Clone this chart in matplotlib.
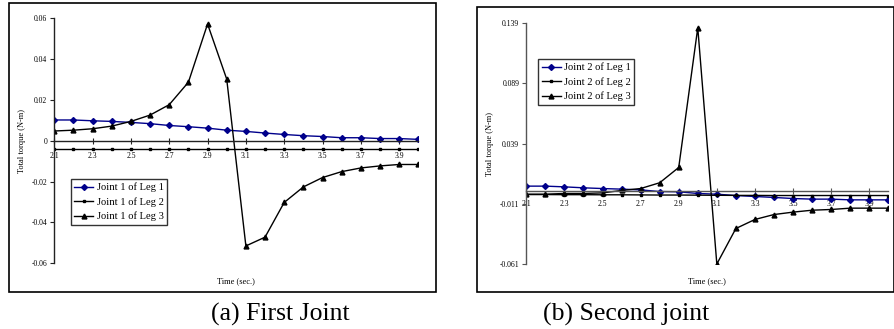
import matplotlib.pyplot as plt
from matplotlib.patches import Rectangle
import numpy as np

plt.rcParams['font.family'] = ['Liberation Serif', 'DejaVu Serif']

time = np.round(np.arange(2.1, 4.01, 0.1), 1)
xtick_vals = [2.1, 2.3, 2.5, 2.7, 2.9, 3.1, 3.3, 3.5, 3.7, 3.9]

# joint 1
j1_leg1 = [0.0102, 0.0102, 0.0098, 0.0095, 0.0090, 0.0084, 0.0075, 0.0069, 0.0062, 0.0052,
           0.0046, 0.0038, 0.0031, 0.0025, 0.0021, 0.0015, 0.0015, 0.0011, 0.0011, 0.0007]
j1_leg2 = [-0.0038] * 20
j1_leg3 = [0.0048, 0.0052, 0.0059, 0.0072, 0.0095, 0.0126, 0.0177, 0.0287, 0.0572, 0.0302,
           -0.0515, -0.0472, -0.0302, -0.0226, -0.0180, -0.0151, -0.0133, -0.0123, -0.0116, -0.0116]

# joint 2
j2_leg1 = [0.0037, 0.0037, 0.0031, 0.0023, 0.0017, 0.0012, 0.0006, -0.0008, -0.0010, -0.0024,
           -0.0030, -0.0041, -0.0049, -0.0057, -0.0066, -0.0071, -0.0071, -0.0077, -0.0077, -0.0077]
j2_leg2 = [-0.0033, -0.0033, -0.0034, -0.0034, -0.0035, -0.0035, -0.0036, -0.0037, -0.0037, -0.0038,
           -0.0039, -0.0040, -0.0040, -0.0041, -0.0041, -0.0041, -0.0041, -0.0041, -0.0041, -0.0041]
j2_leg3 = [-0.0030, -0.0030, -0.0024, -0.0024, -0.0019, 0.0001, 0.0017, 0.0065, 0.0192, 0.1353,
           -0.0610, -0.0315, -0.0240, -0.0199, -0.0179, -0.0163, -0.0157, -0.0146, -0.0146, -0.0146]

y1_ticks = [-0.06, -0.04, -0.02, 0, 0.02, 0.04, 0.06]
y1_labels = ["-0.06", "-0.04", "-0.02", "0", "0.02", "0.04", "0.06"]
y2_ticks = [-0.061, -0.011, 0.039, 0.089, 0.139]

NAVY = "#00008b"

fig = plt.figure(figsize=(8.95, 3.29), dpi=100)

# outer frames
fig.patches.append(Rectangle((9/895, 1-292/329), 427/895, 289/329, transform=fig.transFigure,
                             fill=False, edgecolor="black", linewidth=1.2))
fig.patches.append(Rectangle((477/895, 1-292/329), 417/895, 285/329, transform=fig.transFigure,
                             fill=False, edgecolor="black", linewidth=1.2))


def setup_axes(ax, axis_color, pad):
	for s in ['top', 'right']:
		ax.spines[s].set_visible(False)
	ax.spines['bottom'].set_position(('data', 0))
	ax.spines['left'].set_color(axis_color)
	ax.spines['bottom'].set_color(axis_color)
	ax.spines['left'].set_linewidth(1.0)
	ax.spines['bottom'].set_linewidth(1.0)
	ax.set_xlim(2.1, 4.0)
	ax.set_xticks(xtick_vals)
	ax.set_xticklabels([str(v) for v in xtick_vals])
	ax.tick_params(axis='x', direction='inout', length=4, width=0.8, color=axis_color,
				   labelsize=5.5, pad=pad)
	ax.tick_params(axis='y', direction='out', length=3, width=0.8, color=axis_color,
				   labelsize=5.5, pad=2)
	ax.set_facecolor('none')
	ax.set_xlabel("Time (sec.)", fontsize=6)
	ax.set_ylabel("Total torque (N-m)", fontsize=6)


def add_legend(ax, anchor):
	lg = ax.legend(loc="upper left", bbox_to_anchor=anchor, fontsize=7.6, frameon=True,
				   fancybox=False, edgecolor="black", handlelength=1.8, borderpad=0.35,
				   labelspacing=0.45, handletextpad=0.3, borderaxespad=0)
	lg.get_frame().set_linewidth(1.0)


# (a) first joint
ax1 = fig.add_axes([54.3/895, 1-263.3/329, 364/895, 245/329])
ax1.plot(time, j1_leg1, color=NAVY, marker="D", markersize=3, linewidth=1.0, label="Joint 1 of Leg 1")
ax1.plot(time, j1_leg2, color="black", marker="s", markersize=2, linewidth=1.0, label="Joint 1 of Leg 2")
ax1.plot(time, j1_leg3, color="black", marker="^", markersize=3.5, linewidth=1.0, label="Joint 1 of Leg 3")
ax1.set_ylim(-0.06, 0.06)
ax1.set_yticks(y1_ticks)
ax1.set_yticklabels(y1_labels)
setup_axes(ax1, "#222222", 6)
ax1.xaxis.set_label_coords(0.5, -0.055)
ax1.yaxis.set_label_coords(-0.078, 0.5)
add_legend(ax1, ((70.7-54.3)/364, (263.3-179)/245))

# (b) second joint
ax2 = fig.add_axes([526.3/895, 1-264/329, 362/895, 240.7/329])
ax2.plot(time, j2_leg1, color=NAVY, marker="D", markersize=3, linewidth=1.0, label="Joint 2 of Leg 1")
ax2.plot(time, j2_leg2, color="black", marker="s", markersize=2, linewidth=1.0, label="Joint 2 of Leg 2")
ax2.plot(time, j2_leg3, color="black", marker="^", markersize=3.5, linewidth=1.0, label="Joint 2 of Leg 3")
ax2.set_ylim(-0.061, 0.139)
ax2.set_yticks(y2_ticks)
ax2.set_yticklabels([f"{v:.3f}" for v in y2_ticks])
setup_axes(ax2, "#555555", 5)
ax2.xaxis.set_label_coords(0.5, -0.055)
ax2.yaxis.set_label_coords(-0.09, 0.5)
add_legend(ax2, ((538-526.3)/362, (264-59)/240.7))

fig.text(280/895, 1-314/329, "(a) First Joint", fontsize=18.5, ha="center", va="center")
fig.text(626/895, 1-314/329, "(b) Second joint", fontsize=18.5, ha="center", va="center")

fig.savefig("out.png", dpi=100)
